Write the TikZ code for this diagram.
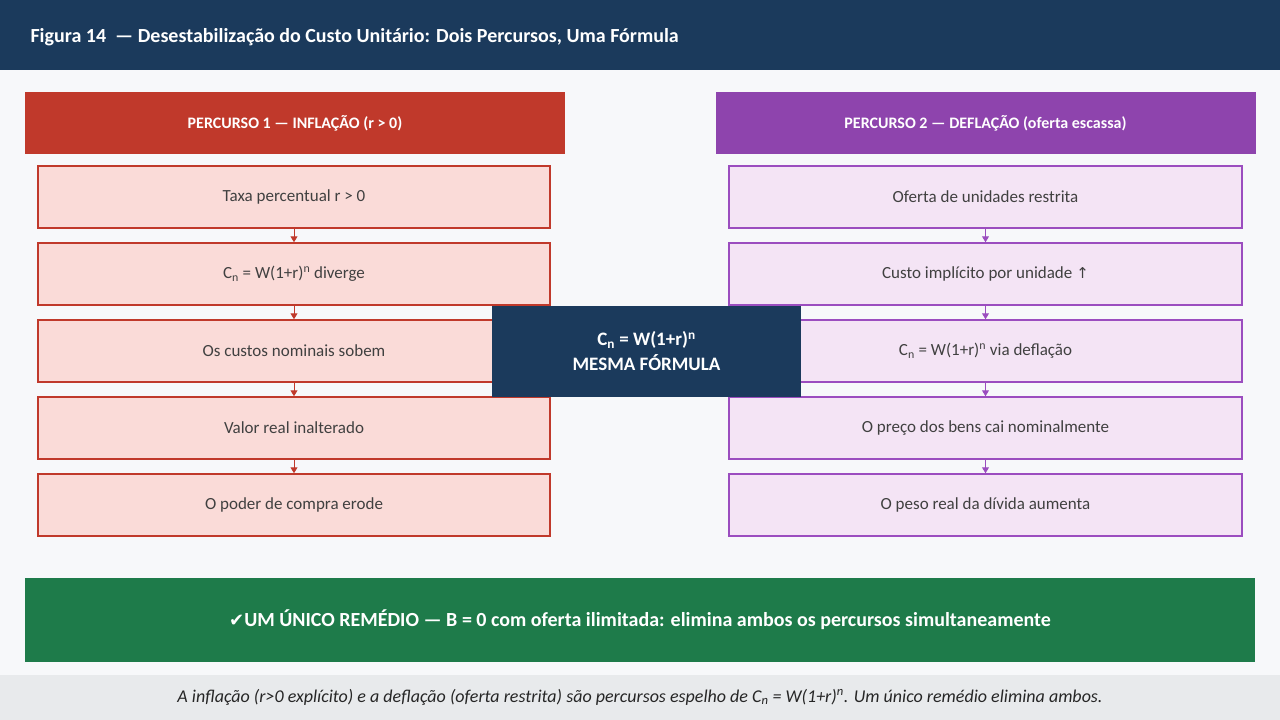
\documentclass[tikz,border=0pt]{standalone}
\usepackage{fontspec}
\setmainfont{Carlito}
\newfontfamily\symfont{DejaVu Sans}
\definecolor{navy}{HTML}{1B3A5C}
\definecolor{bg}{HTML}{F7F8FA}
\definecolor{red1}{HTML}{C0392B}
\definecolor{redf}{HTML}{FADBD8}
\definecolor{pur}{HTML}{8E44AD}
\definecolor{purf}{HTML}{F4E4F5}
\definecolor{purb}{HTML}{9B4DBF}
\definecolor{grn}{HTML}{1E7B4A}
\definecolor{foot}{HTML}{E8EAEC}
\usetikzlibrary{arrows.meta}
\newcommand{\Cn}{C\textsubscript{n} = W(1+r)\textsuperscript{n}}
\begin{document}
\begin{tikzpicture}[x=1pt,y=-1pt,
  lbox/.style={draw=red1,line width=1.5pt,fill=redf,minimum width=512pt,minimum height=62pt,font=\fontsize{17}{20}\selectfont,text=black!75},
  rbox/.style={draw=purb,line width=1.5pt,fill=purf,minimum width=513pt,minimum height=62pt,font=\fontsize{17}{20}\selectfont,text=black!75},
  hdr/.style={minimum width=540pt,minimum height=62pt,text=white,font=\bfseries\fontsize{16}{19}\selectfont},
  larr/.style={-{Triangle[length=6pt,width=7pt]},red1,line width=1pt},
  rarr/.style={-{Triangle[length=6pt,width=7pt]},purb,line width=1pt}]
\useasboundingbox (0,0) rectangle (1280,720);
\fill[bg] (0,0) rectangle (1280,720);
\fill[navy] (0,0) rectangle (1280,70);
\node[anchor=west,text=white,font=\bfseries\fontsize{20}{24}\selectfont] (title) at (27,37) {Figura 14\ \ — Desestabilização do Custo Unitário: Dois Percursos, Uma Fórmula};
\node[hdr,fill=red1] (lh) at (295,123) {PERCURSO 1 — INFLAÇÃO (r > 0)};
\node[hdr,fill=pur] (rh) at (985.5,123) {PERCURSO 2 — DEFLAÇÃO (oferta escassa)};
\node[lbox] (l1) at (294,197) {Taxa percentual r > 0};
\node[lbox] (l2) at (294,274) {\Cn{} diverge};
\node[lbox] (l3) at (294,351) {Os custos nominais sobem};
\node[lbox] (l4) at (294,428) {Valor real inalterado};
\node[lbox] (l5) at (294,505) {O poder de compra erode};
\node[rbox] (r1) at (985.5,197) {Oferta de unidades restrita};
\node[rbox] (r2) at (985.5,274) {Custo implícito por unidade {\symfont\fontsize{15}{18}\selectfont ↑}};
\node[rbox] (r3) at (985.5,351) {\Cn{} via deflação};
\node[rbox] (r4) at (985.5,428) {O preço dos bens cai nominalmente};
\node[rbox] (r5) at (985.5,505) {O peso real da dívida aumenta};
\foreach \a/\b in {l1/l2,l2/l3,l3/l4,l4/l5} \draw[larr] (\a.south) -- (\b.north);
\foreach \a/\b in {r1/r2,r2/r3,r3/r4,r4/r5} \draw[rarr] (\a.south) -- (\b.north);
\node[fill=navy,minimum width=309pt,minimum height=91pt,text=white,align=center,font=\bfseries\fontsize{19}{25}\selectfont] (mid) at (646.5,351.5) {\Cn\\MESMA FÓRMULA};
\node[fill=grn,minimum width=1230pt,minimum height=84pt,text=white,font=\bfseries\fontsize{20}{24}\selectfont] (rem) at (640,620) {{\symfont\fontsize{18}{22}\selectfont ✔}UM ÚNICO REMÉDIO — B = 0 com oferta ilimitada: elimina ambos os percursos simultaneamente};
\fill[foot] (0,675) rectangle (1280,720);
\node[font=\itshape\fontsize{18}{22}\selectfont,text=black!85] (cap) at (640,697) {A inflação (r>0 explícito) e a deflação (oferta restrita) são percursos espelho de \Cn. Um único remédio elimina ambos.};
\end{tikzpicture}
\end{document}
